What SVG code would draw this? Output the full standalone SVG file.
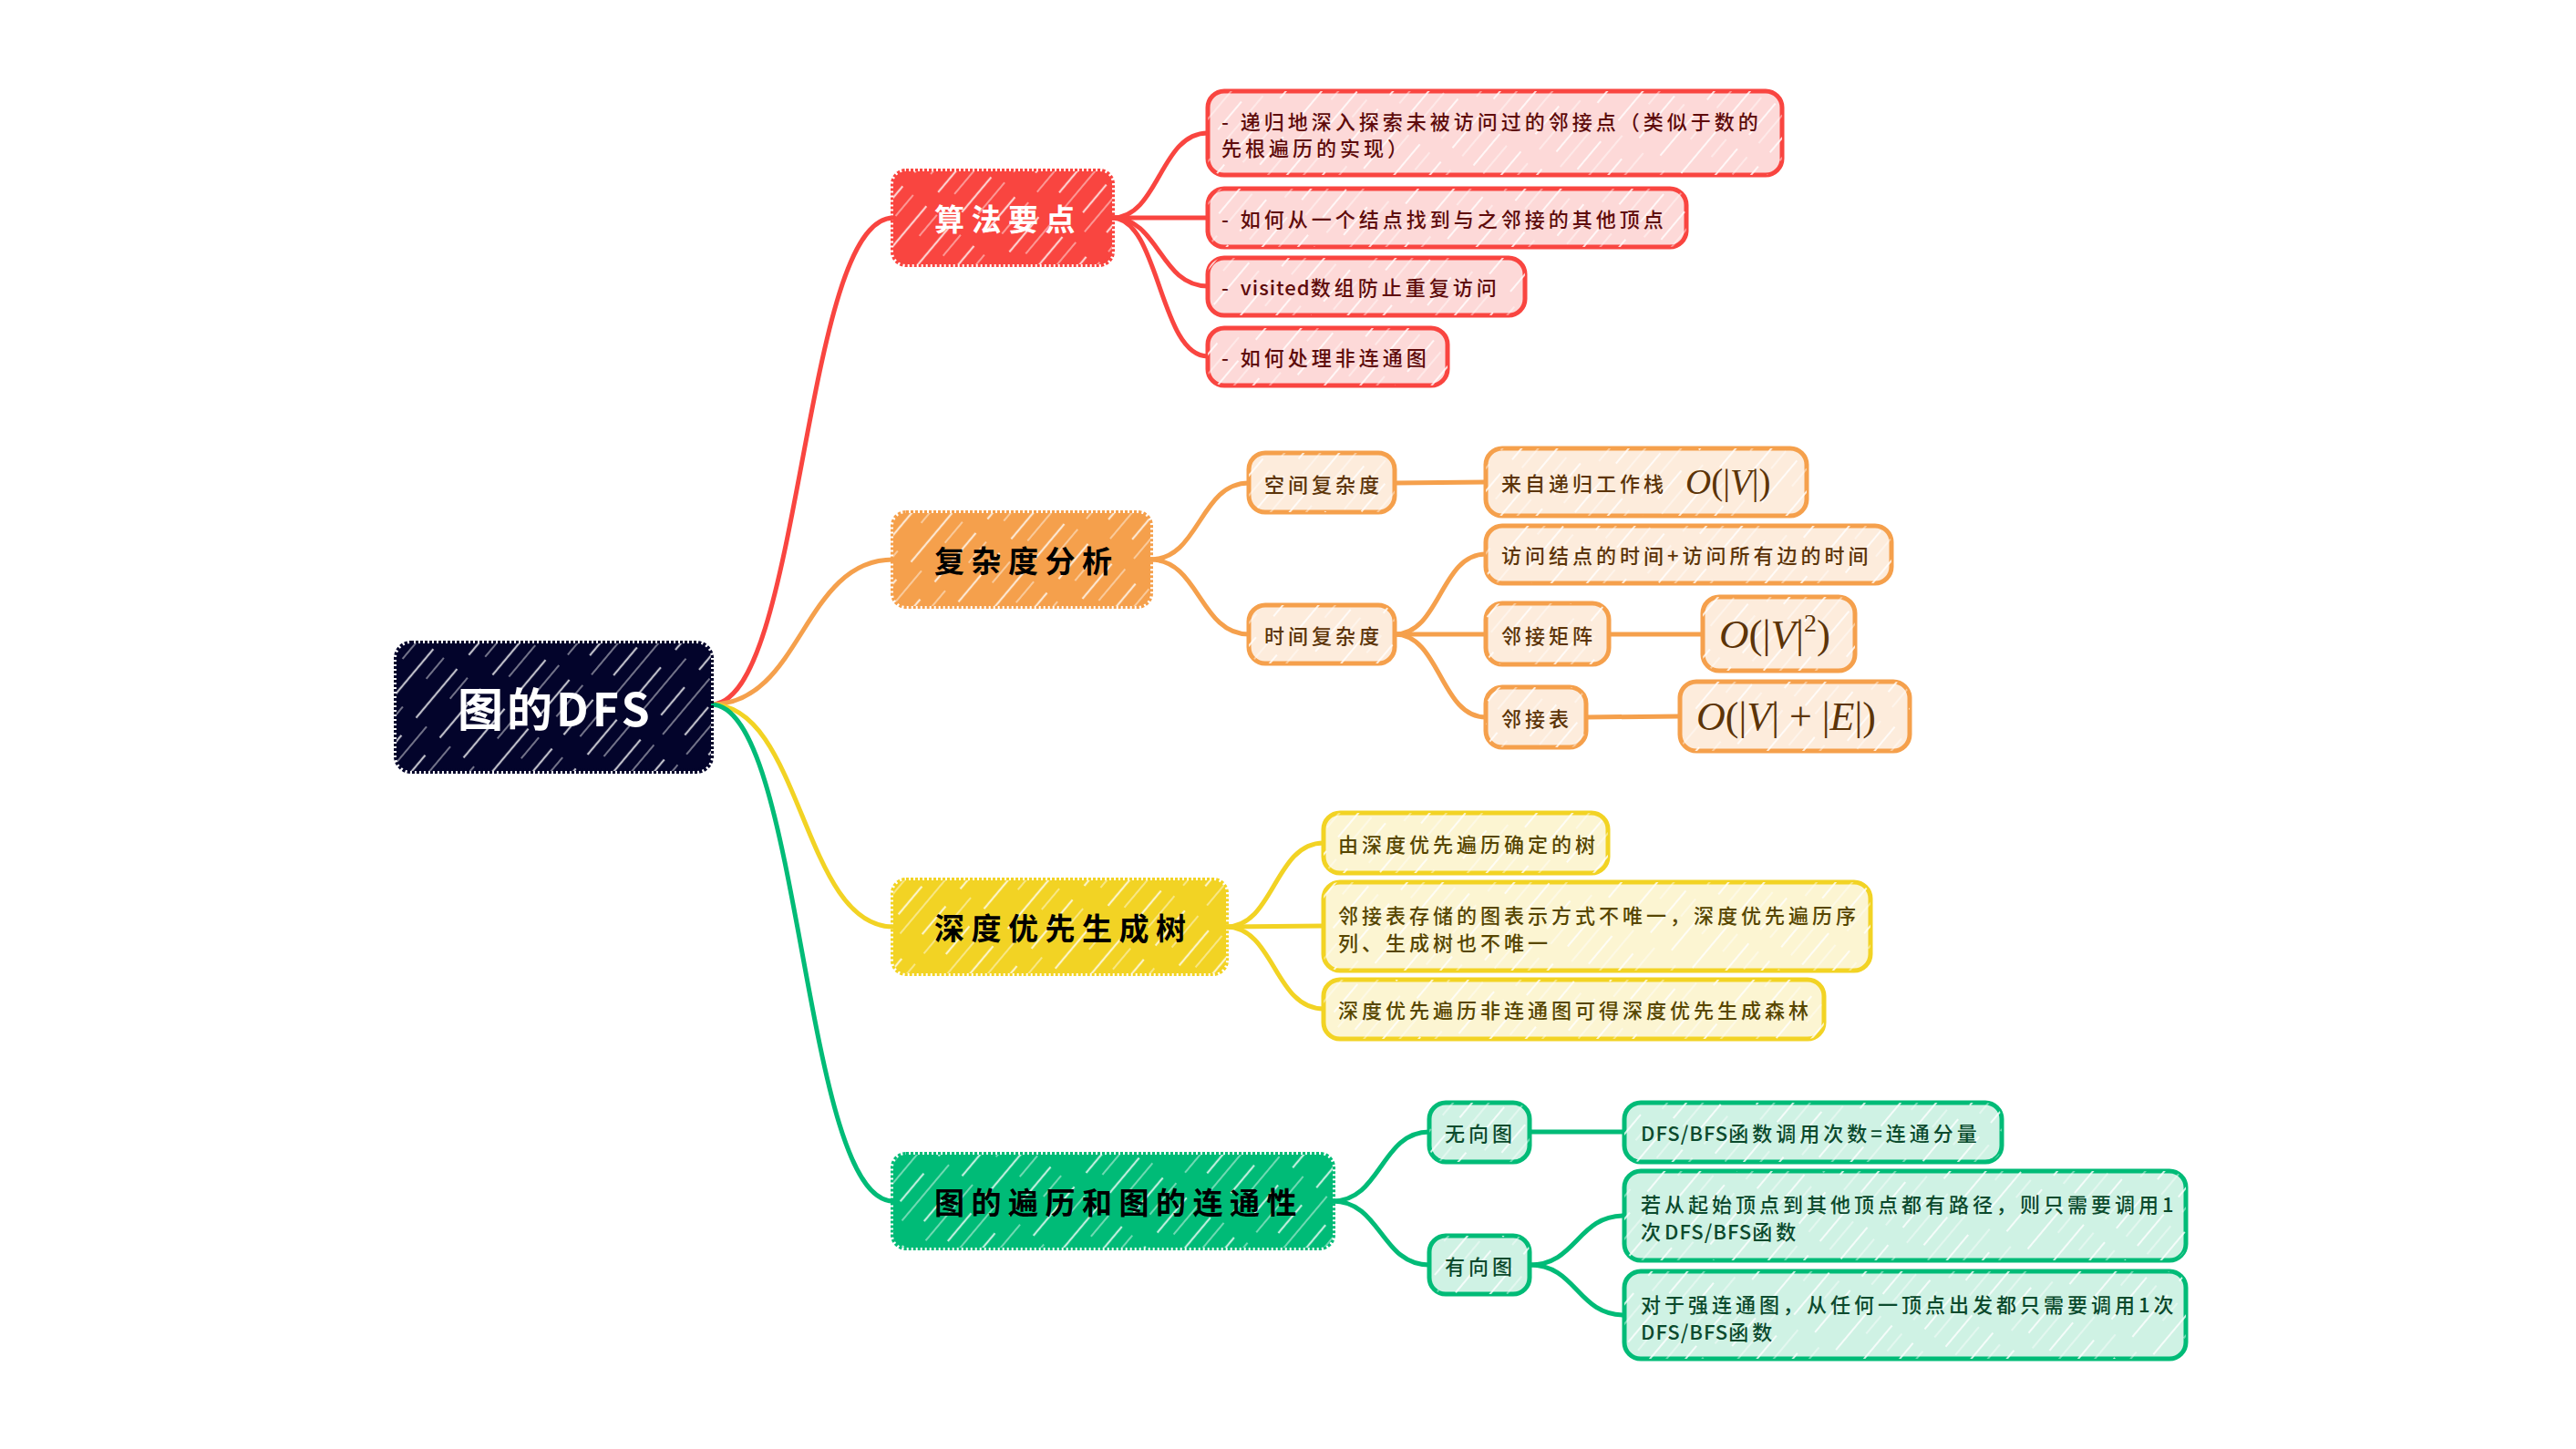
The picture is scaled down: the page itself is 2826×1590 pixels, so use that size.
<svg xmlns="http://www.w3.org/2000/svg" width="2826" height="1590" viewBox="0 0 2826 1590">
<defs>
<pattern id="hatchDark" patternUnits="userSpaceOnUse" width="34" height="240" patternTransform="rotate(40)">
<line x1="6" y1="0" x2="6" y2="240" stroke="#ffffff" stroke-width="2.2" stroke-dasharray="70 25 40 35 50 20" opacity="0.75"/>
<line x1="21" y1="0" x2="21" y2="240" stroke="#ffffff" stroke-width="1.6" stroke-dasharray="30 40 80 15 45 30" opacity="0.55"/>
</pattern>
<pattern id="hatchLight" patternUnits="userSpaceOnUse" width="30" height="220" patternTransform="rotate(40)">
<line x1="5" y1="0" x2="5" y2="220" stroke="#ffffff" stroke-width="2" stroke-dasharray="60 30 40 25 45 20" opacity="0.8"/>
<line x1="19" y1="0" x2="19" y2="220" stroke="#ffffff" stroke-width="1.4" stroke-dasharray="25 45 70 20 40 20" opacity="0.6"/>
</pattern>
<style>
.cjk{font-family:"Noto Sans CJK SC","Noto Sans",sans-serif;}
.main{font-size:33px;font-weight:700;letter-spacing:7.5px;dominant-baseline:central;}
.leaf{font-size:22px;font-weight:500;letter-spacing:4px;dominant-baseline:central;}
.lat{letter-spacing:1px;}
.math{font-family:"Liberation Serif","DejaVu Serif",serif;}
.it{font-style:italic;}
.edge{fill:none;stroke-width:5;stroke-linecap:round;}
.redS{stroke:#F94540;} .orS{stroke:#F5A04C;} .yeS{stroke:#F2D324;} .grS{stroke:#00BB77;}
.mainbox{stroke-width:6;stroke-dasharray:3 2;}
.lr{fill:#FDD9D8;stroke:#F94540;stroke-width:5;}
.lo{fill:#FDECDC;stroke:#F5A04C;stroke-width:5;}
.ly{fill:#FCF5D2;stroke:#F2D324;stroke-width:5;}
.lg{fill:#CFF2E4;stroke:#00BB77;stroke-width:5;}
.hl{fill:url(#hatchLight);}
.hd{fill:url(#hatchDark);}
.tr{fill:#5E0B0B;} .to{fill:#5C3408;} .ty{fill:#574600;} .tg{fill:#0B4A2D;}
</style>
</defs>
<rect width="2826" height="1590" fill="#ffffff"/>

<g id="connectors">
<path class="edge redS" d="M780,773 C880,773 880,239 980,239"/>
<path class="edge orS" d="M780,773 C880,773 880,614 980,614"/>
<path class="edge yeS" d="M780,773 C880,773 880,1017 980,1017"/>
<path class="edge grS" d="M780,773 C880,773 880,1318 980,1318"/>

<path class="edge redS" d="M1220,239 C1272,239 1272,146 1325,146"/>
<path class="edge redS" d="M1220,239 L1325,239"/>
<path class="edge redS" d="M1220,239 C1272,239 1272,314 1325,314"/>
<path class="edge redS" d="M1220,239 C1272,239 1272,391 1325,391"/>

<path class="edge orS" d="M1262,614 C1316,614 1316,530 1370,530"/>
<path class="edge orS" d="M1262,614 C1316,614 1316,696 1370,696"/>
<path class="edge orS" d="M1530,530 L1630,529"/>
<path class="edge orS" d="M1530,696 C1580,696 1580,608 1630,608"/>
<path class="edge orS" d="M1530,696 L1630,696"/>
<path class="edge orS" d="M1530,696 C1580,696 1580,787 1630,787"/>
<path class="edge orS" d="M1765,696 L1868,696"/>
<path class="edge orS" d="M1740,787 L1843,786"/>

<path class="edge yeS" d="M1345,1017 C1398,1017 1398,925 1452,925"/>
<path class="edge yeS" d="M1345,1017 L1452,1016"/>
<path class="edge yeS" d="M1345,1017 C1398,1017 1398,1107 1452,1107"/>

<path class="edge grS" d="M1462,1318 C1515,1318 1515,1242 1568,1242"/>
<path class="edge grS" d="M1462,1318 C1515,1318 1515,1388 1568,1388"/>
<path class="edge grS" d="M1678,1242 L1782,1242"/>
<path class="edge grS" d="M1678,1388 C1730,1388 1730,1334 1782,1334"/>
<path class="edge grS" d="M1678,1388 C1730,1388 1730,1443 1782,1443"/>
</g>

<g id="root">
<rect x="435" y="706" width="345" height="140" rx="16" fill="#03042B" stroke="#03042B" class="mainbox"/>
<rect x="435" y="706" width="345" height="140" rx="16" class="hd"/>
<text x="502" y="775" class="cjk main" style="font-size:50px;letter-spacing:4px" fill="#ffffff">图的DFS</text>
</g>

<g id="n-suanfa">
<rect x="980" y="188" width="240" height="102" rx="14" fill="#F94540" stroke="#F94540" class="mainbox"/>
<rect x="980" y="188" width="240" height="102" rx="14" class="hd"/>
<text x="1025" y="239" class="cjk main" fill="#ffffff">算法要点</text>
</g>
<g id="n-fuza">
<rect x="980" y="563" width="282" height="102" rx="14" fill="#F5A04C" stroke="#F5A04C" class="mainbox"/>
<rect x="980" y="563" width="282" height="102" rx="14" class="hd"/>
<text x="1025" y="614" class="cjk main" fill="#000000">复杂度分析</text>
</g>
<g id="n-shengcheng">
<rect x="980" y="966" width="365" height="102" rx="14" fill="#F2D324" stroke="#F2D324" class="mainbox"/>
<rect x="980" y="966" width="365" height="102" rx="14" class="hd"/>
<text x="1025" y="1017" class="cjk main" fill="#000000">深度优先生成树</text>
</g>
<g id="n-liantong">
<rect x="980" y="1267" width="482" height="102" rx="14" fill="#00BB77" stroke="#00BB77" class="mainbox"/>
<rect x="980" y="1267" width="482" height="102" rx="14" class="hd"/>
<text x="1025" y="1318" class="cjk main" fill="#000000">图的遍历和图的连通性</text>
</g>

<g id="r1">
<rect x="1325" y="100" width="630" height="92" rx="18" class="lr"/>
<rect x="1325" y="100" width="630" height="92" rx="18" class="hl"/>
<text x="1340" y="132" class="cjk leaf tr">- 递归地深入探索未被访问过的邻接点（类似于数的</text>
<text x="1340" y="161" class="cjk leaf tr">先根遍历的实现）</text>
</g>
<g id="r2">
<rect x="1325" y="207" width="525" height="64" rx="18" class="lr"/>
<rect x="1325" y="207" width="525" height="64" rx="18" class="hl"/>
<text x="1340" y="239" class="cjk leaf tr">- 如何从一个结点找到与之邻接的其他顶点</text>
</g>
<g id="r3">
<rect x="1325" y="283" width="348" height="63" rx="18" class="lr"/>
<rect x="1325" y="283" width="348" height="63" rx="18" class="hl"/>
<text x="1340" y="314" class="cjk leaf tr">- <tspan class="lat">visited</tspan>数组防止重复访问</text>
</g>
<g id="r4">
<rect x="1325" y="360" width="263" height="63" rx="18" class="lr"/>
<rect x="1325" y="360" width="263" height="63" rx="18" class="hl"/>
<text x="1340" y="391" class="cjk leaf tr">- 如何处理非连通图</text>
</g>

<g id="o-kongjian">
<rect x="1370" y="497" width="160" height="65" rx="18" class="lo"/>
<rect x="1370" y="497" width="160" height="65" rx="18" class="hl"/>
<text x="1387" y="530" class="cjk leaf to">空间复杂度</text>
</g>
<g id="o-shijian">
<rect x="1370" y="664" width="160" height="64" rx="18" class="lo"/>
<rect x="1370" y="664" width="160" height="64" rx="18" class="hl"/>
<text x="1387" y="696" class="cjk leaf to">时间复杂度</text>
</g>
<g id="o-laizi">
<rect x="1630" y="492" width="352" height="74" rx="18" class="lo"/>
<rect x="1630" y="492" width="352" height="74" rx="18" class="hl"/>
<text x="1647" y="529" class="cjk leaf to">来自递归工作栈</text>
<text x="1849" y="542" class="math to" font-size="39"><tspan class="it">O</tspan>(|<tspan class="it">V</tspan>|)</text>
</g>
<g id="o-fangwen">
<rect x="1630" y="577" width="445" height="63" rx="18" class="lo"/>
<rect x="1630" y="577" width="445" height="63" rx="18" class="hl"/>
<text x="1647" y="608" class="cjk leaf to">访问结点的时间+访问所有边的时间</text>
</g>
<g id="o-juzhen">
<rect x="1630" y="662" width="135" height="67" rx="18" class="lo"/>
<rect x="1630" y="662" width="135" height="67" rx="18" class="hl"/>
<text x="1647" y="696" class="cjk leaf to">邻接矩阵</text>
</g>
<g id="o-v2">
<rect x="1868" y="655" width="167" height="81" rx="18" class="lo"/>
<rect x="1868" y="655" width="167" height="81" rx="18" class="hl"/>
<text x="1886" y="711" class="math to" font-size="45"><tspan class="it">O</tspan>(|<tspan class="it">V</tspan>|<tspan font-size="28" dy="-18">2</tspan><tspan dy="18">)</tspan></text>
</g>
<g id="o-biao">
<rect x="1630" y="754" width="110" height="66" rx="18" class="lo"/>
<rect x="1630" y="754" width="110" height="66" rx="18" class="hl"/>
<text x="1647" y="787" class="cjk leaf to">邻接表</text>
</g>
<g id="o-ve">
<rect x="1843" y="748" width="252" height="76" rx="18" class="lo"/>
<rect x="1843" y="748" width="252" height="76" rx="18" class="hl"/>
<text x="1861" y="801" class="math to" font-size="44"><tspan class="it">O</tspan>(|<tspan class="it">V</tspan>| + |<tspan class="it">E</tspan>|)</text>
</g>

<g id="y1">
<rect x="1452" y="892" width="312" height="66" rx="18" class="ly"/>
<rect x="1452" y="892" width="312" height="66" rx="18" class="hl"/>
<text x="1468" y="925" class="cjk leaf ty">由深度优先遍历确定的树</text>
</g>
<g id="y2">
<rect x="1452" y="968" width="600" height="97" rx="18" class="ly"/>
<rect x="1452" y="968" width="600" height="97" rx="18" class="hl"/>
<text x="1468" y="1003" class="cjk leaf ty">邻接表存储的图表示方式不唯一，深度优先遍历序</text>
<text x="1468" y="1033" class="cjk leaf ty">列、生成树也不唯一</text>
</g>
<g id="y3">
<rect x="1452" y="1075" width="549" height="65" rx="18" class="ly"/>
<rect x="1452" y="1075" width="549" height="65" rx="18" class="hl"/>
<text x="1468" y="1107" class="cjk leaf ty">深度优先遍历非连通图可得深度优先生成森林</text>
</g>

<g id="g-wuxiang">
<rect x="1568" y="1210" width="110" height="65" rx="18" class="lg"/>
<rect x="1568" y="1210" width="110" height="65" rx="18" class="hl"/>
<text x="1585" y="1242" class="cjk leaf tg">无向图</text>
</g>
<g id="g-youxiang">
<rect x="1568" y="1356" width="110" height="64" rx="18" class="lg"/>
<rect x="1568" y="1356" width="110" height="64" rx="18" class="hl"/>
<text x="1585" y="1388" class="cjk leaf tg">有向图</text>
</g>
<g id="g1">
<rect x="1782" y="1210" width="414" height="65" rx="18" class="lg"/>
<rect x="1782" y="1210" width="414" height="65" rx="18" class="hl"/>
<text x="1800" y="1242" class="cjk leaf tg"><tspan class="lat">DFS/BFS</tspan>函数调用次数=连通分量</text>
</g>
<g id="g2">
<rect x="1782" y="1285" width="616" height="98" rx="18" class="lg"/>
<rect x="1782" y="1285" width="616" height="98" rx="18" class="hl"/>
<text x="1800" y="1320" class="cjk leaf tg">若从起始顶点到其他顶点都有路径，则只需要调用1</text>
<text x="1800" y="1350" class="cjk leaf tg">次<tspan class="lat">DFS/BFS</tspan>函数</text>
</g>
<g id="g3">
<rect x="1782" y="1395" width="616" height="96" rx="18" class="lg"/>
<rect x="1782" y="1395" width="616" height="96" rx="18" class="hl"/>
<text x="1800" y="1430" class="cjk leaf tg">对于强连通图，从任何一顶点出发都只需要调用1次</text>
<text x="1800" y="1460" class="cjk leaf tg"><tspan class="lat">DFS/BFS</tspan>函数</text>
</g>
</svg>
